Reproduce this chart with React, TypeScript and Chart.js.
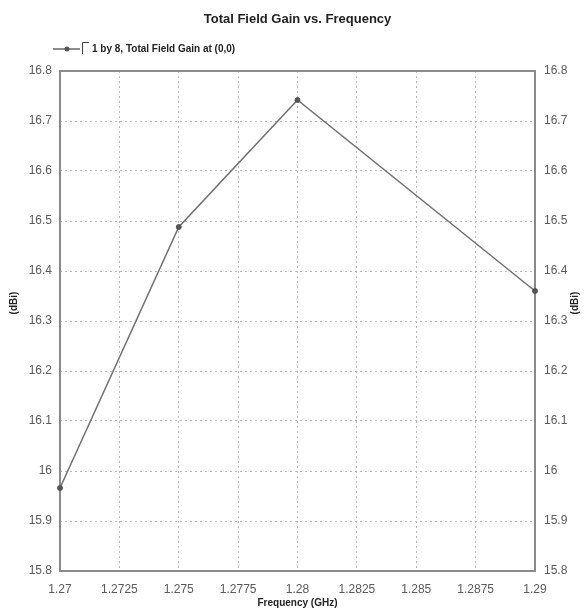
import React, { useEffect, useRef } from "react";
import { Chart, registerables } from "chart.js";

Chart.register(...registerables);

const chartTitle = "Total Field Gain vs. Frequency";
const seriesLabel = "1 by 8, Total Field Gain at (0,0)";
const xAxisTitle = "Frequency (GHz)";
const yAxisTitle = "(dBi)";

const freqs = [1.27, 1.275, 1.28, 1.29];
const gains = [15.966, 16.488, 16.742, 16.36];

const xTickValues = [1.27, 1.2725, 1.275, 1.2775, 1.28, 1.2825, 1.285, 1.2875, 1.29];
const xTickLabels = ["1.27", "1.2725", "1.275", "1.2775", "1.28", "1.2825", "1.285", "1.2875", "1.29"];
const yTickValues = [15.8, 15.9, 16.0, 16.1, 16.2, 16.3, 16.4, 16.5, 16.6, 16.7, 16.8];
const yTickLabels = ["15.8", "15.9", "16", "16.1", "16.2", "16.3", "16.4", "16.5", "16.6", "16.7", "16.8"];

const FONT = "'Liberation Sans', Arial, sans-serif";

const decorPlugin = {
  id: "decor",
  beforeDatasetsDraw(chart: any) {
    const { ctx, chartArea } = chart;
    ctx.save();
    ctx.strokeStyle = "#8a8a8a";
    ctx.lineWidth = 2;
    ctx.strokeRect(chartArea.left, chartArea.top, chartArea.right - chartArea.left, chartArea.bottom - chartArea.top);
    ctx.restore();
  },
  afterDraw(chart: any) {
    const { ctx, chartArea } = chart;
    const cx = (chartArea.left + chartArea.right) / 2;
    ctx.save();
    ctx.fillStyle = "#222";
    ctx.textAlign = "center";
    ctx.textBaseline = "middle";
    ctx.font = `bold 13px ${FONT}`;
    ctx.fillText(chartTitle, cx, 19.5, 196);

    // legend
    ctx.strokeStyle = "#666";
    ctx.lineWidth = 1.5;
    ctx.beginPath();
    ctx.moveTo(53, 49);
    ctx.lineTo(80, 49);
    ctx.stroke();
    ctx.fillStyle = "#555";
    ctx.beginPath();
    ctx.arc(67, 49, 2.5, 0, Math.PI * 2);
    ctx.fill();
    ctx.strokeStyle = "#444";
    ctx.lineWidth = 1;
    ctx.beginPath();
    ctx.moveTo(82.5, 54);
    ctx.lineTo(82.5, 42.5);
    ctx.lineTo(89, 42.5);
    ctx.stroke();
    ctx.fillStyle = "#222";
    ctx.textAlign = "left";
    ctx.font = `bold 10px ${FONT}`;
    ctx.fillText(seriesLabel, 92, 49.5, 144);

    // x title
    ctx.textAlign = "center";
    ctx.font = `bold 10px ${FONT}`;
    ctx.fillText(xAxisTitle, cx, 603, 89);

    // y titles
    const cy = 303;
    ctx.font = `bold 10px ${FONT}`;
    [14, 575].forEach((x) => {
      ctx.save();
      ctx.translate(x, cy);
      ctx.rotate(-Math.PI / 2);
      ctx.fillText(yAxisTitle, 0, 0, 26);
      ctx.restore();
    });
    ctx.restore();
  },
};

export default function App() {
  const canvasRef = useRef<HTMLCanvasElement | null>(null);

  useEffect(() => {
    const canvas = canvasRef.current;
    if (!canvas) return;
    const tickFont = { family: FONT, size: 12 };
    const gridOpts = { color: "#b8b8b8", lineWidth: 1, drawTicks: false };
    const chart = new Chart(canvas, {
      type: "line",
      data: {
        datasets: [
          {
            label: seriesLabel,
            data: freqs.map((f, i) => ({ x: f, y: gains[i] })),
            borderColor: "#707070",
            borderWidth: 1.5,
            pointRadius: 2.5,
            pointBackgroundColor: "#555",
            pointBorderColor: "#555",
            pointBorderWidth: 1,
            tension: 0,
            clip: false as any,
          },
        ],
      },
      options: {
        animation: false,
        responsive: false,
        devicePixelRatio: 1,
        layout: { padding: { top: 71, left: 0, right: 0, bottom: 0 } },
        plugins: { legend: { display: false }, title: { display: false }, tooltip: { enabled: false } },
        scales: {
          x: {
            type: "linear",
            min: 1.27,
            max: 1.29,
            afterBuildTicks: (scale: any) => {
              scale.ticks = xTickValues.map((v) => ({ value: v }));
            },
            afterFit: (scale: any) => {
              scale.height = 40;
            },
            ticks: {
              autoSkip: false,
              maxRotation: 0,
              padding: 11,
              color: "#5a5a5a",
              font: tickFont,
              callback: (_v: any, i: number) => xTickLabels[i],
            },
            grid: gridOpts,
            border: { display: false, dash: [2, 3] },
          },
          y: {
            type: "linear",
            position: "left",
            min: 15.8,
            max: 16.8,
            afterBuildTicks: (scale: any) => {
              scale.ticks = yTickValues.map((v) => ({ value: v }));
            },
            afterFit: (scale: any) => {
              scale.width = 60;
            },
            ticks: {
              autoSkip: false,
              padding: 8,
              color: "#5a5a5a",
              font: tickFont,
              callback: (_v: any, i: number) => yTickLabels[i],
            },
            grid: gridOpts,
            border: { display: false, dash: [2, 3] },
          },
          y2: {
            type: "linear",
            position: "right",
            min: 15.8,
            max: 16.8,
            afterBuildTicks: (scale: any) => {
              scale.ticks = yTickValues.map((v) => ({ value: v }));
            },
            afterFit: (scale: any) => {
              scale.width = 50;
            },
            ticks: {
              autoSkip: false,
              padding: 9,
              color: "#5a5a5a",
              font: tickFont,
              callback: (_v: any, i: number) => yTickLabels[i],
            },
            grid: { display: false, drawTicks: false },
            border: { display: false },
          },
        },
      } as any,
      plugins: [decorPlugin],
    });
    return () => chart.destroy();
  }, []);

  return (
    <div style={{ position: "fixed", left: 0, top: 0, width: 585, height: 611, background: "#fff" }}>
      <canvas ref={canvasRef} width={585} height={611} style={{ display: "block" }} />
    </div>
  );
}
